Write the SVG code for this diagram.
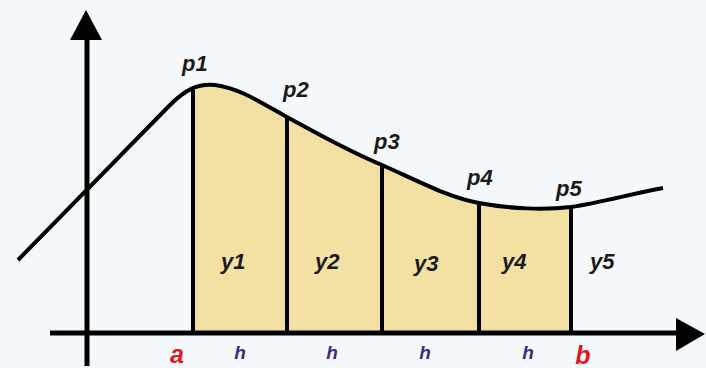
<svg xmlns="http://www.w3.org/2000/svg" width="706" height="368" viewBox="0 0 706 368">
<style>
.ax{stroke:#000;stroke-width:5;fill:none}
.div{stroke:#000;stroke-width:4;fill:none}
.lbl{font-family:"Liberation Sans",Arial,sans-serif;font-style:italic;font-weight:bold;font-size:22px;fill:#1a1a1a}
.h{font-family:"Liberation Sans",Arial,sans-serif;font-style:italic;font-weight:bold;font-size:19px;fill:#3a2a8a;text-anchor:middle}
.ab{font-family:"Liberation Sans",Arial,sans-serif;font-style:italic;font-weight:bold;font-size:25px;fill:#e3161b;text-anchor:middle}
</style>
<rect width="706" height="368" fill="#f6f9fc"/>
<g id="area">
<path d="M193,91 C198,86 204,84 215,85 C240,88 265,105 287,117 C320,135 350,152 382,165 C420,182 450,198 479,203 C510,209 545,210 571,207 L571,333 L193,333 Z" fill="#f3e1a3"/>
</g>
<g id="axes">
<line class="ax" x1="87" y1="366" x2="87" y2="38"/>
<polygon points="86,10 70,40 102,40" fill="#000"/>
<line class="ax" x1="50" y1="333" x2="678" y2="333"/>
<polygon points="705,334 676,318 676,351" fill="#000"/>
</g>
<g id="ordinates">
<line class="div" x1="193" y1="90" x2="193" y2="333"/>
<line class="div" x1="287" y1="117" x2="287" y2="333"/>
<line class="div" x1="382" y1="165" x2="382" y2="333"/>
<line class="div" x1="479" y1="203" x2="479" y2="333"/>
<line class="div" x1="571" y1="207" x2="571" y2="333"/>
</g>
<g id="curve">
<path d="M18,260 L170,105 C185,90 198,83 215,85 C240,88 265,105 287,117 C320,135 350,152 382,165 C420,182 450,198 479,203 C510,209 545,210 571,207 C600,203 630,194 663,188" stroke="#000" stroke-width="4" fill="none"/>
</g>
<g id="labels">
<text class="lbl" x="182" y="71">p1</text>
<text class="lbl" x="283" y="97">p2</text>
<text class="lbl" x="374" y="149">p3</text>
<text class="lbl" x="467" y="185">p4</text>
<text class="lbl" x="556" y="196">p5</text>
<text class="lbl" x="221" y="269">y1</text>
<text class="lbl" x="315" y="269">y2</text>
<text class="lbl" x="414" y="271">y3</text>
<text class="lbl" x="502" y="269">y4</text>
<text class="lbl" x="590" y="269">y5</text>
<text class="h" x="240" y="359">h</text>
<text class="h" x="332" y="359">h</text>
<text class="h" x="425" y="359">h</text>
<text class="h" x="528" y="359">h</text>
<text class="ab" x="177" y="363">a</text>
<text class="ab" x="583" y="364">b</text>
</g>
</svg>
